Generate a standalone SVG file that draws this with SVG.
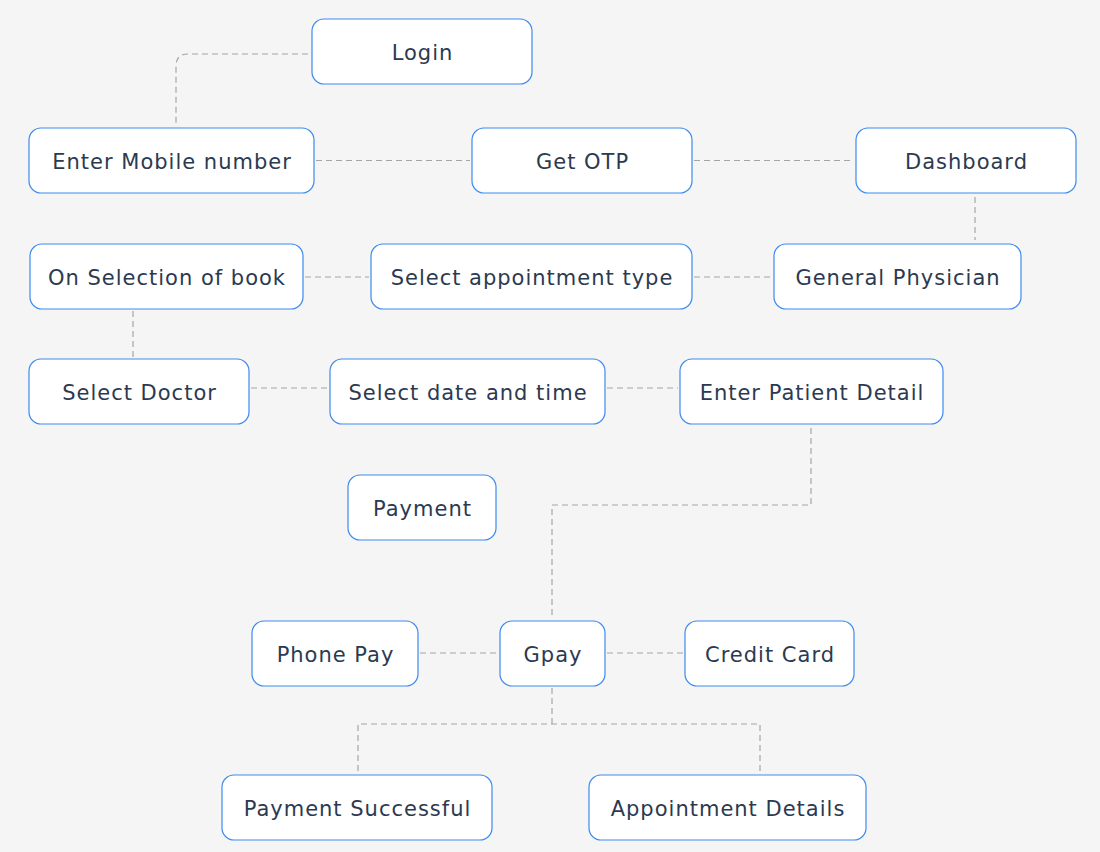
<svg xmlns="http://www.w3.org/2000/svg" width="1100" height="852" viewBox="0 0 1100 852">
<style>
.box{fill:#ffffff;stroke:#3d8bef;stroke-width:1.2}
.lbl{font-family:"DejaVu Sans","Liberation Sans",sans-serif;font-size:21px;letter-spacing:1px;fill:#2b3a50;text-anchor:middle;dominant-baseline:central}
.con{fill:none;stroke:#a3a6a8;stroke-width:1.2;stroke-dasharray:6 4}
</style>
<rect width="1100" height="852" fill="#f5f5f5"/>
<g id="connectors">
<path class="con" d="M308 54 H188 Q176 54 176 66 V124"/>
<path class="con" d="M316 160.5 H470"/>
<path class="con" d="M694 160.5 H854"/>
<path class="con" d="M975 197 V240"/>
<path class="con" d="M694 277 H772"/>
<path class="con" d="M305 277 H369"/>
<path class="con" d="M133 311 V357"/>
<path class="con" d="M251 388 H328"/>
<path class="con" d="M607 388 H678"/>
<path class="con" d="M811 428 V505 H552 V619"/>
<path class="con" d="M420 653 H498"/>
<path class="con" d="M607 653 H683"/>
<path class="con" d="M552 688 V724 M358 771 V724 H760 V771"/>
</g>
<g id="login"><rect class="box" x="312" y="19" width="220" height="65" rx="12"/><text class="lbl" x="422.5" y="53">Login</text></g>
<g id="enter-mobile"><rect class="box" x="29" y="128" width="285" height="65" rx="12"/><text class="lbl" x="172" y="162">Enter Mobile number</text></g>
<g id="get-otp"><rect class="box" x="472" y="128" width="220" height="65" rx="12"/><text class="lbl" x="582.5" y="162">Get OTP</text></g>
<g id="dashboard"><rect class="box" x="856" y="128" width="220" height="65" rx="12"/><text class="lbl" x="966.5" y="162">Dashboard</text></g>
<g id="on-selection"><rect class="box" x="30" y="244" width="273" height="65" rx="12"/><text class="lbl" x="167" y="278">On Selection of book</text></g>
<g id="select-appointment"><rect class="box" x="371" y="244" width="321" height="65" rx="12"/><text class="lbl" x="532" y="278">Select appointment type</text></g>
<g id="general-physician"><rect class="box" x="774" y="244" width="247" height="65" rx="12"/><text class="lbl" x="898" y="278">General Physician</text></g>
<g id="select-doctor"><rect class="box" x="29" y="359" width="220" height="65" rx="12"/><text class="lbl" x="139.5" y="393">Select Doctor</text></g>
<g id="select-date"><rect class="box" x="330" y="359" width="275" height="65" rx="12"/><text class="lbl" x="468" y="393">Select date and time</text></g>
<g id="enter-patient"><rect class="box" x="680" y="359" width="263" height="65" rx="12"/><text class="lbl" x="812" y="393">Enter Patient Detail</text></g>
<g id="payment"><rect class="box" x="348" y="475" width="148" height="65" rx="12"/><text class="lbl" x="422.5" y="509">Payment</text></g>
<g id="phone-pay"><rect class="box" x="252" y="621" width="166" height="65" rx="12"/><text class="lbl" x="335.5" y="655">Phone Pay</text></g>
<g id="gpay"><rect class="box" x="500" y="621" width="105" height="65" rx="12"/><text class="lbl" x="553" y="655">Gpay</text></g>
<g id="credit-card"><rect class="box" x="685" y="621" width="169" height="65" rx="12"/><text class="lbl" x="770" y="655">Credit Card</text></g>
<g id="payment-successful"><rect class="box" x="222" y="775" width="270" height="65" rx="12"/><text class="lbl" x="357.5" y="809">Payment Successful</text></g>
<g id="appointment-details"><rect class="box" x="589" y="775" width="277" height="65" rx="12"/><text class="lbl" x="728" y="809">Appointment Details</text></g>
</svg>
